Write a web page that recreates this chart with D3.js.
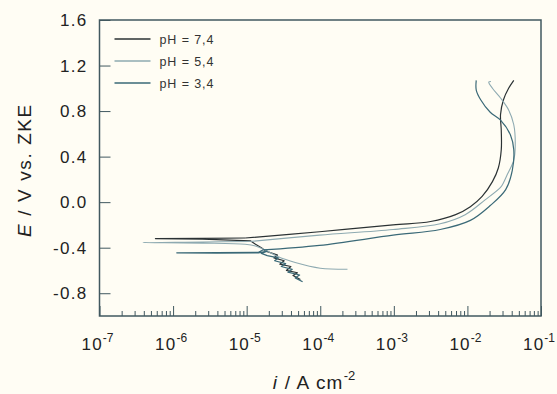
<!DOCTYPE html>
<html>
<head>
<meta charset="utf-8">
<script src="https://cdn.jsdelivr.net/npm/d3@7"></script>
<style>
  html, body { margin: 0; padding: 0; background: #fffdf4; }
  svg { display: block; font-family: "Liberation Sans", Arial, sans-serif; }
</style>
</head>
<body>
<svg id="chart" width="557" height="394"></svg>
<script>
// values: [log10 i (A cm-2), E (V vs. ZKE)]
const seriesNames = ['pH = 7,4', 'pH = 5,4', 'pH = 3,4'];

// cathodic part up to the corrosion potential spike
const ph74Cath = [
  [-4.27, -0.68], [-4.37, -0.645], [-4.31, -0.62], [-4.46, -0.60], [-4.40, -0.565],
  [-4.55, -0.545], [-4.49, -0.515], [-4.63, -0.49], [-4.58, -0.465], [-4.74, -0.43],
  [-4.80, -0.40], [-4.88, -0.37], [-4.95, -0.34],
  [-5.60, -0.325], [-6.24, -0.32], [-5.60, -0.318], [-5.02, -0.315]
];
// anodic part
const ph74Anod = [
  [-5.02, -0.315], [-4.01, -0.26], [-3.01, -0.20], [-2.50, -0.17], [-2.16, -0.11], [-1.96, -0.04],
  [-1.80, 0.05], [-1.66, 0.18], [-1.58, 0.30], [-1.54, 0.46], [-1.54, 0.63],
  [-1.55, 0.77], [-1.51, 0.90], [-1.44, 1.00], [-1.37, 1.07]
];

const ph54Cath = [
  [-3.63, -0.59], [-4.00, -0.58], [-4.34, -0.53], [-4.57, -0.48], [-4.75, -0.42],
  [-4.88, -0.385], [-5.02, -0.37],
  [-5.60, -0.36], [-6.41, -0.355], [-5.60, -0.35], [-4.95, -0.345]
];
const ph54Anod = [
  [-4.95, -0.345], [-4.01, -0.29], [-3.01, -0.24], [-2.37, -0.19], [-2.03, -0.11], [-1.76, 0.02],
  [-1.55, 0.13], [-1.51, 0.17], [-1.46, 0.24], [-1.37, 0.37], [-1.35, 0.50],
  [-1.37, 0.68], [-1.44, 0.81], [-1.55, 0.915], [-1.66, 1.00], [-1.71, 1.055],
  [-1.68, 1.06]
];

const ph34Cath = [
  [-4.24, -0.70], [-4.34, -0.665], [-4.28, -0.64], [-4.44, -0.615], [-4.38, -0.59],
  [-4.53, -0.565], [-4.47, -0.54], [-4.62, -0.515], [-4.57, -0.49], [-4.72, -0.47],
  [-4.80, -0.45], [-4.72, -0.43], [-4.84, -0.445],
  [-5.40, -0.447], [-5.95, -0.445], [-5.40, -0.443], [-4.84, -0.44], [-4.78, -0.42]
];
const ph34Anod = [
  [-4.78, -0.42], [-4.01, -0.38], [-3.01, -0.29], [-2.37, -0.24], [-1.96, -0.16], [-1.69, -0.03],
  [-1.48, 0.11], [-1.39, 0.28], [-1.37, 0.46], [-1.415, 0.59], [-1.55, 0.72],
  [-1.69, 0.79], [-1.82, 0.90], [-1.88, 0.985], [-1.88, 1.07]
];

const xDecades = [-7, -6, -5, -4, -3, -2, -1];
const yTicks = [1.6, 1.2, 0.8, 0.4, 0.0, -0.4, -0.8];
const colors = ['#2b3234', '#8eaab1', '#3a6977'];

const svg = d3.select('#chart');
const margin = { top: 20, right: 16, bottom: 78, left: 99.5 };
const W = 557, H = 394;
const width = W - margin.left - margin.right;
const height = H - margin.top - margin.bottom;
const g = svg.append('g').attr('transform', 'translate(' + margin.left + ',' + margin.top + ')');

const x = d3.scaleLog().domain([1e-7, 1e-1]).range([0, width]);
const y = d3.scaleLinear().domain([-1.0, 1.6]).range([height, 0]);
const axisColor = '#41585f';

// minor + major x ticks, drawn inward
const minor = [];
for (let d = -7; d < -1; d++) {
  for (let k = 2; k <= 9; k++) minor.push(k * Math.pow(10, d));
}
const xAxis = d3.axisBottom(x).tickValues(xDecades.map(function(e) { return Math.pow(10, e); }))
  .tickSize(-10).tickFormat('');
const xMinor = d3.axisBottom(x).tickValues(minor).tickSize(-5).tickFormat('');
g.append('g').attr('transform', 'translate(0,' + height + ')').call(xMinor);
g.append('g').attr('transform', 'translate(0,' + height + ')').call(xAxis);

const yAxis = d3.axisLeft(y).tickValues(yTicks).tickSize(-11).tickFormat('');
g.append('g').call(yAxis);

g.selectAll('.domain').remove();
g.selectAll('.tick line').attr('stroke', axisColor).attr('stroke-width', 1);

// frame
g.append('rect').attr('x', 0).attr('y', 0).attr('width', width).attr('height', height)
  .attr('fill', 'none').attr('stroke', axisColor).attr('stroke-width', 1.5);

// y tick labels
g.selectAll('text.ylab').data(yTicks).enter().append('text')
  .attr('class', 'ylab')
  .attr('x', -12).attr('y', function(d) { return y(d) + 6; })
  .attr('text-anchor', 'end').attr('font-size', 17).attr('letter-spacing', 1.3)
  .attr('fill', '#222')
  .text(function(d) { return d.toFixed(1); });

// x tick labels: 10^n
const xl = g.selectAll('text.xlab').data(xDecades).enter().append('text')
  .attr('class', 'xlab')
  .attr('x', function(d) { return x(Math.pow(10, d)) - 2; })
  .attr('y', height + 34)
  .attr('text-anchor', 'middle').attr('font-size', 17).attr('letter-spacing', 1.2)
  .attr('fill', '#222');
xl.append('tspan').text('10');
xl.append('tspan').attr('dy', -8).attr('font-size', 12).attr('letter-spacing', 0)
  .text(function(d) { return String(d); });

// axis titles
const yt = svg.append('text')
  .attr('transform', 'translate(31,' + (margin.top + 150) + ') rotate(-90)')
  .attr('text-anchor', 'middle').attr('font-size', 19).attr('letter-spacing', 1.6).attr('fill', '#222');
yt.append('tspan').attr('font-style', 'italic').text('E');
yt.append('tspan').text(' / V vs. ZKE');

const xt = svg.append('text')
  .attr('x', 314).attr('y', 389)
  .attr('text-anchor', 'middle').attr('font-size', 19).attr('letter-spacing', 1.2).attr('fill', '#222');
xt.append('tspan').attr('font-style', 'italic').text('i');
xt.append('tspan').text(' / A cm');
xt.append('tspan').attr('dy', -9).attr('font-size', 13).attr('letter-spacing', 0).text('-2');

// curves: jagged cathodic parts straight, anodic parts smoothed
const lineJag = d3.line()
  .x(function(d) { return x(Math.pow(10, d[0])); })
  .y(function(d) { return y(d[1]); });
const lineSmooth = d3.line()
  .x(function(d) { return x(Math.pow(10, d[0])); })
  .y(function(d) { return y(d[1]); })
  .curve(d3.curveCatmullRom.alpha(0.5));

const cathodic = [ph74Cath, ph54Cath, ph34Cath];
const anodic = [ph74Anod, ph54Anod, ph34Anod];
const widths = [1.2, 1.1, 1.2];

g.selectAll('path.cath').data(cathodic).enter().append('path')
  .attr('class', 'cath')
  .attr('d', function(d, i) { return i === 1 ? lineSmooth(d) : lineJag(d); })
  .attr('fill', 'none')
  .attr('stroke-linejoin', 'round')
  .attr('stroke', function(d, i) { return colors[i]; })
  .attr('stroke-width', function(d, i) { return widths[i]; });

g.selectAll('path.anod').data(anodic).enter().append('path')
  .attr('class', 'anod')
  .attr('d', lineSmooth)
  .attr('fill', 'none')
  .attr('stroke', function(d, i) { return colors[i]; })
  .attr('stroke-width', function(d, i) { return widths[i]; });

// legend
const leg = g.append('g').attr('transform', 'translate(15,19)');
seriesNames.forEach(function(name, i) {
  const row = leg.append('g').attr('transform', 'translate(0,' + (i * 22) + ')');
  row.append('line').attr('x1', 0).attr('x2', 36).attr('y1', 0).attr('y2', 0)
    .attr('stroke', colors[i]).attr('stroke-width', 1.3);
  row.append('text').attr('x', 45).attr('y', 4.5)
    .attr('font-size', 12.5).attr('letter-spacing', 0.9).attr('fill', '#333')
    .text(name);
});
</script>
</body>
</html>
